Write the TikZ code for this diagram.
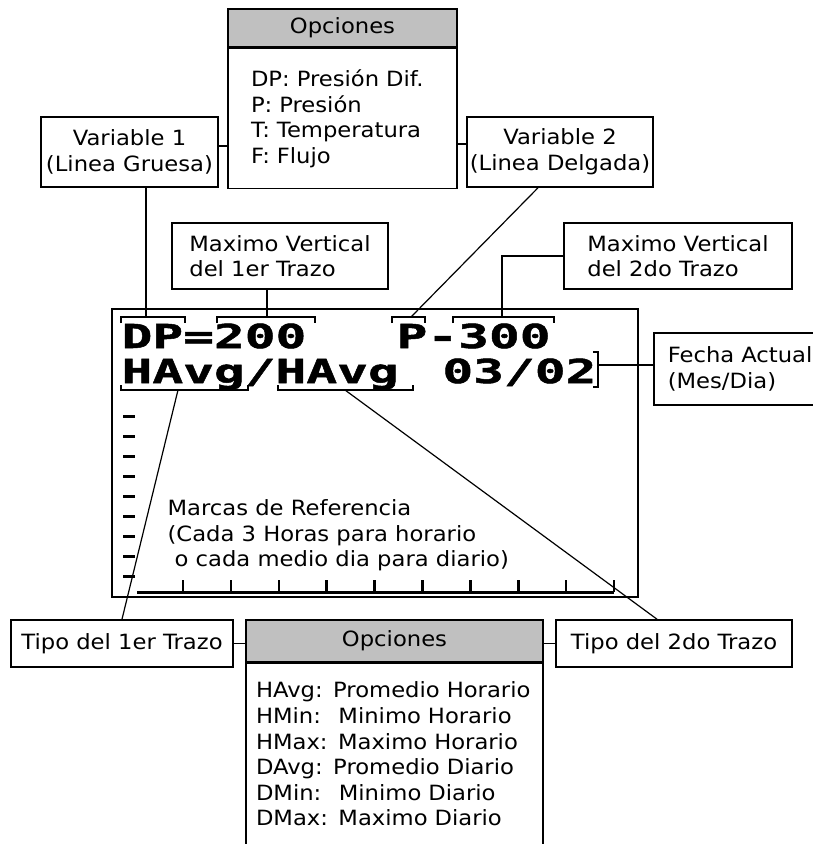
\documentclass[tikz,border=0pt]{standalone}
\usepackage{fontspec}
\setmainfont[FakeStretch=1.08]{DejaVu Sans}
\newfontfamily\lcdfont[FakeStretch=1.55,BoldFeatures={FakeBold=1.5}]{DejaVu Sans Mono}
\usepackage{tikz}
\def\tickstep{47.9}
\definecolor{headgray}{HTML}{C0C0C0}

\begin{document}
\begin{tikzpicture}[x=1pt,y=-1pt,line width=1.2pt,font=\fontsize{21}{25.6}\selectfont]
    \tikzstyle{box}=[draw,line width=1.6pt,inner sep=0pt]
    \tikzstyle{head}=[box,fill=headgray]
    \tikzstyle{lcd}=[inner sep=0pt,anchor=base west,font={\lcdfont\bfseries\fontsize{33}{33}\selectfont}]
    \tikzstyle{lcdtick}=[line width=3pt]

    \useasboundingbox (0,0) rectangle (813,844);

    % Draw the upper option box and the variable boxes
    \node[head,minimum width=229,minimum height=38] (opt1head) at (342.5,28) {Opciones};
    \node[box,anchor=north,minimum width=229,minimum height=140,text width=183,inner xsep=23,align=left] (opt1) at (opt1head.south)
        {DP: Presión Dif.\\P: Presión\\T: Temperatura\\F: Flujo};
    \node[box,minimum width=177,minimum height=70,align=center] (var1) at (129.5,152) {Variable 1\\(Linea Gruesa)};
    \node[box,minimum width=186,minimum height=70,align=center] (var2) at (560,152) {Variable 2\\(Linea Delgada)};

    % Draw the boxes for the vertical maximum
    \node[box,minimum width=216,minimum height=66,align=left] (max1) at (280,256) {Maximo Vertical\\del 1er Trazo};
    \node[box,minimum width=228,minimum height=66,align=left] (max2) at (678,256) {Maximo Vertical\\del 2do Trazo};

    % Draw the screen and the date box
    \node[box,minimum width=526,minimum height=288] (screen) at (375,453) {};
    \node[box,anchor=west,minimum width=177,minimum height=72,text width=149,inner xsep=14,align=left] (date) at (653,369)
        {Fecha Actual\\(Mes/Dia)};

    % Draw the lower boxes
    \node[box,minimum width=222,minimum height=47] (type1) at (122,643.5) {Tipo del 1er Trazo};
    \node[head,minimum width=297,minimum height=42] (opt2head) at (394.5,641) {Opciones};
    \node[box,anchor=north,minimum width=297,minimum height=181,text width=277,inner xsep=10,align=left] (opt2) at (opt2head.south)
        {HAvg: Promedio Horario\\HMin:~ Minimo Horario\\HMax: Maximo Horario\\DAvg: Promedio Diario\\DMin:~ Minimo Diario\\DMax: Maximo Diario};
    \node[box,minimum width=236,minimum height=47] (type2) at (674,643.5) {Tipo del 2do Trazo};

    % Text shown on the screen
    \node[lcd] (lcdvar1) at (121,348) {DP=200};
    \node[lcd] (lcdvar2) at (396,348) {P-300};
    \node[lcd] (lcdtype) at (121,383) {HAvg/HAvg};
    \node[lcd,anchor=base east] (lcddate) at (597,383) {03/02};

    % Brackets round the fields
    \foreach \a/\b in {121/185,217/315,392/425,453/554}
        \draw (\a,323) -- (\a,317) -- (\b,317) -- (\b,323);
    \foreach \a/\b in {121/248,278/413}
        \draw (\a,385) -- (\a,390) -- (\b,390) -- (\b,385);
    \draw (593,352) -- (598,352) -- (598,387) -- (593,387);

    \coordinate (cDP) at (146,317);
    \coordinate (c200) at (267,317);
    \coordinate (cP) at (411,317);
    \coordinate (c300) at (502,317);
    \coordinate (cH1) at (178,390);
    \coordinate (cH2) at (345,390);
    \coordinate (cDate) at (598,365);
    \coordinate (v1r) at ([yshift=6pt]var1.east);
    \coordinate (v2l) at ([yshift=8pt]var2.west);

    % Reference marks and time axis
    \foreach \y in {0,...,8}
        \draw[lcdtick] (123,{416+20*\y}) -- (135,{416+20*\y});
    \draw[lcdtick] (137,592) -- (614,592);
    \foreach \i in {0,...,9}
        \draw[line width=2.5pt] ({183+\tickstep*\i},592) -- ({183+\tickstep*\i},580);
    \node[anchor=north west,inner sep=0pt,align=left] (note) at (167,499)
        {Marcas de Referencia\\(Cada 3 Horas para horario\\\hspace{7pt}o cada medio dia para diario)};

    % Connect the boxes with the fields
    \draw (v1r) -- (v1r -| opt1.west);
    \draw (v2l) -- (v2l -| opt1.east);
    \draw (cDP) -- (cDP |- var1.south);
    \draw (c200) -- (c200 |- max1.south);
    \draw (cP) -- ([xshift=-22pt]var2.south);
    \draw (c300) |- (max2.west);
    \draw (cDate) -- (cDate -| date.west);
    \draw (cH1) -- (type1.north);
    \draw (cH2) -- ([xshift=-17pt]type2.north);
    \draw (type1.east) -- (type1.east -| opt2head.west);
    \draw (type2.west) -- (type2.west -| opt2head.east);
\end{tikzpicture}
\end{document}
